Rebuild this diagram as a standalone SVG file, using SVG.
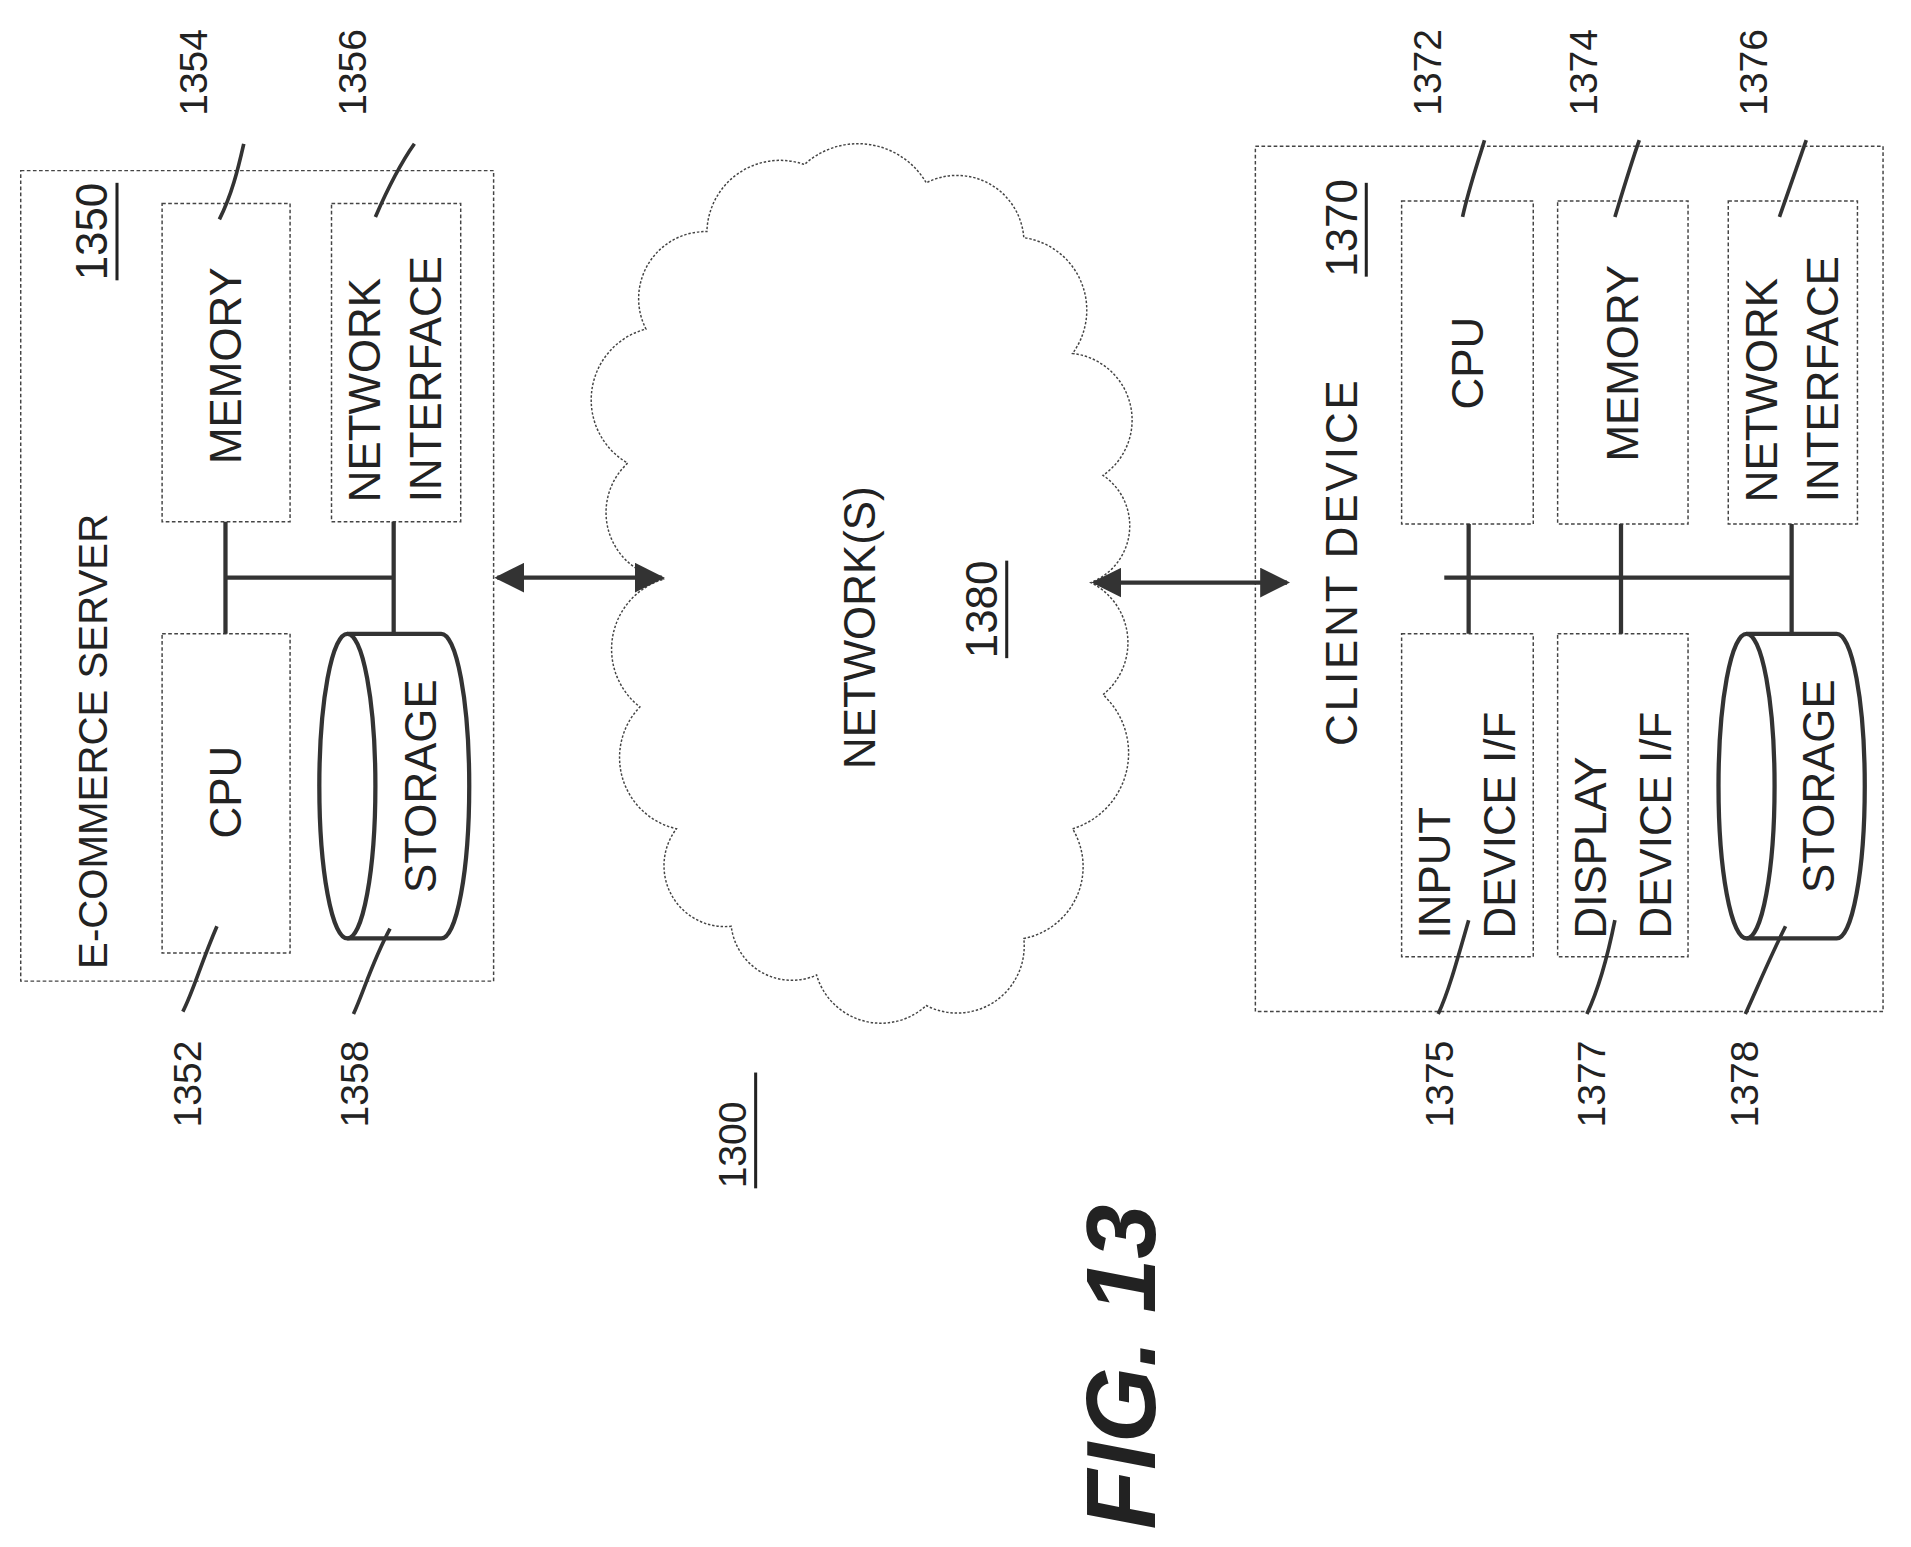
<svg xmlns="http://www.w3.org/2000/svg" width="1911" height="1547" viewBox="0 0 1911 1547">
<defs>
<style>
.box{fill:none;stroke:#444;stroke-width:1.2;stroke-dasharray:3 2}
.line{fill:none;stroke:#333;stroke-width:3.5}
.ldr{fill:none;stroke:#333;stroke-width:3}
.t{font-family:"Liberation Sans",Arial,sans-serif;font-size:36px;fill:#222}
.n{font-family:"Liberation Sans",Arial,sans-serif;font-size:32px;fill:#222}
.u{stroke:#222;stroke-width:2.5}
</style>
<marker id="ah" viewBox="0 0 10 10" refX="9" refY="5" markerWidth="7" markerHeight="7" orient="auto-start-reverse" markerUnits="strokeWidth"><path d="M0,0 L10,5 L0,10 z" fill="#333"/></marker>
</defs>
<rect width="1911" height="1547" fill="#fff"/>
<g transform="scale(1.2188)">
<g id="server">
<rect class="box" x="17" y="140" width="388" height="665"/>
<text class="t" style="font-size:33px" transform="translate(88,795) rotate(-90)">E-COMMERCE SERVER</text>
<text class="t" transform="translate(88,230) rotate(-90)">1350</text>
<line class="u" x1="96" y1="150" x2="96" y2="230"/>
</g>
<g id="mem1"><rect class="box" x="133" y="167" width="105" height="261"/><text class="t" text-anchor="middle" transform="translate(198,300) rotate(-90)">MEMORY</text></g>
<g id="cpu1"><rect class="box" x="133" y="520" width="105" height="262"/><text class="t" text-anchor="middle" transform="translate(198,650) rotate(-90)">CPU</text></g>
<g id="ni1"><rect class="box" x="272" y="167" width="106" height="261"/><text class="t" transform="translate(312,412) rotate(-90)">NETWORK</text><text class="t" transform="translate(362,412) rotate(-90)">INTERFACE</text></g>
<g id="sto1"><path class="line" d="M285,520 L362,520 A23,125 0 0 1 362,770 L285,770"/><ellipse class="line" cx="285" cy="645" rx="23" ry="125"/><text class="t" text-anchor="middle" transform="translate(358,645) rotate(-90)">STORAGE</text></g>
<g id="cloud"><path class="box" style="stroke-dasharray:2 1.5" d="M545,475 A55,55 0 0 1 515,380 A60,60 0 0 1 530,270 A55,55 0 0 1 580,190 A60,60 0 0 1 660,135 A65,65 0 0 1 760,150 A55,55 0 0 1 840,195 A60,60 0 0 1 880,290 A55,55 0 0 1 905,390 A50,50 0 0 1 895,478 A55,55 0 0 1 905,570 A65,65 0 0 1 880,680 A60,60 0 0 1 840,770 A55,55 0 0 1 760,825 A55,55 0 0 1 670,800 A50,50 0 0 1 600,760 A50,50 0 0 1 555,680 A60,60 0 0 1 525,580 A60,60 0 0 1 545,475 Z"/>
<text class="t" text-anchor="middle" transform="translate(718,515) rotate(-90)">NETWORK(S)</text>
<text class="t" text-anchor="middle" transform="translate(818,500) rotate(-90)">1380</text><line class="u" x1="826" y1="460" x2="826" y2="540"/></g>
<g id="client">
<rect class="box" x="1030" y="120" width="515" height="710"/>
<text class="t" transform="translate(1113,612) rotate(-90)" textLength="300">CLIENT DEVICE</text>
<text class="t" transform="translate(1113,227) rotate(-90)">1370</text><line class="u" x1="1121" y1="150" x2="1121" y2="227"/>
</g>
<g id="cpu2"><rect class="box" x="1150" y="165" width="108" height="265"/><text class="t" text-anchor="middle" transform="translate(1217,298) rotate(-90)">CPU</text></g>
<g id="mem2"><rect class="box" x="1278" y="165" width="107" height="265"/><text class="t" text-anchor="middle" transform="translate(1344,298) rotate(-90)">MEMORY</text></g>
<g id="ni2"><rect class="box" x="1418" y="165" width="106" height="265"/><text class="t" transform="translate(1458,412) rotate(-90)">NETWORK</text><text class="t" transform="translate(1508,412) rotate(-90)">INTERFACE</text></g>
<g id="inp"><rect class="box" x="1150" y="520" width="108" height="265"/><text class="t" transform="translate(1190,770) rotate(-90)">INPUT</text><text class="t" transform="translate(1243,770) rotate(-90)">DEVICE I/F</text></g>
<g id="disp"><rect class="box" x="1278" y="520" width="107" height="265"/><text class="t" transform="translate(1318,770) rotate(-90)">DISPLAY</text><text class="t" transform="translate(1371,770) rotate(-90)">DEVICE I/F</text></g>
<g id="sto2"><path class="line" d="M1433,520 L1507,520 A23,125 0 0 1 1507,770 L1433,770"/><ellipse class="line" cx="1433" cy="645" rx="23" ry="125"/><text class="t" text-anchor="middle" transform="translate(1505,645) rotate(-90)">STORAGE</text></g>
<g id="refs">
<text class="n" transform="translate(170,95) rotate(-90)">1354</text>
<text class="n" transform="translate(300,95) rotate(-90)">1356</text>
<text class="n" transform="translate(165,925) rotate(-90)">1352</text>
<text class="n" transform="translate(302,925) rotate(-90)">1358</text>
<text class="n" transform="translate(1182,95) rotate(-90)">1372</text>
<text class="n" transform="translate(1310,95) rotate(-90)">1374</text>
<text class="n" transform="translate(1450,95) rotate(-90)">1376</text>
<text class="n" transform="translate(1192,925) rotate(-90)">1375</text>
<text class="n" transform="translate(1317,925) rotate(-90)">1377</text>
<text class="n" transform="translate(1442,925) rotate(-90)">1378</text>
<text class="n" transform="translate(612,975) rotate(-90)">1300</text><line class="u" x1="620" y1="880" x2="620" y2="975"/>
<text transform="translate(948,1255) rotate(-90)" style="font-family:'Liberation Sans',Arial,sans-serif;font-weight:bold;font-style:italic;font-size:80px;fill:#222">FIG. 13</text>
</g>
<g id="connectors">
<path class="line" d="M185,428 V520 M323,428 V520 M185,474 H323"/>
<path class="line" d="M1205,430 V520 M1330,430 V520 M1470,430 V520 M1185,474 H1470"/>
<line class="line" x1="408" y1="474" x2="543" y2="474" marker-start="url(#ah)" marker-end="url(#ah)"/>
<line class="line" x1="898" y1="478" x2="1056" y2="478" marker-start="url(#ah)" marker-end="url(#ah)"/>
<path class="ldr" d="M180,180 C190,160 195,140 200,118"/>
<path class="ldr" d="M308,178 C318,155 328,135 340,118"/>
<path class="ldr" d="M178,760 C165,790 158,815 150,830"/>
<path class="ldr" d="M320,762 C305,790 298,815 290,832"/>
<path class="ldr" d="M1200,178 C1205,155 1212,135 1218,115"/>
<path class="ldr" d="M1325,178 C1332,155 1338,135 1345,115"/>
<path class="ldr" d="M1460,178 C1468,155 1475,135 1482,115"/>
<path class="ldr" d="M1205,755 C1195,790 1188,815 1180,832"/>
<path class="ldr" d="M1325,755 C1318,790 1310,815 1302,832"/>
<path class="ldr" d="M1465,760 C1450,790 1440,815 1432,832"/>
</g>
</g>
</svg>
